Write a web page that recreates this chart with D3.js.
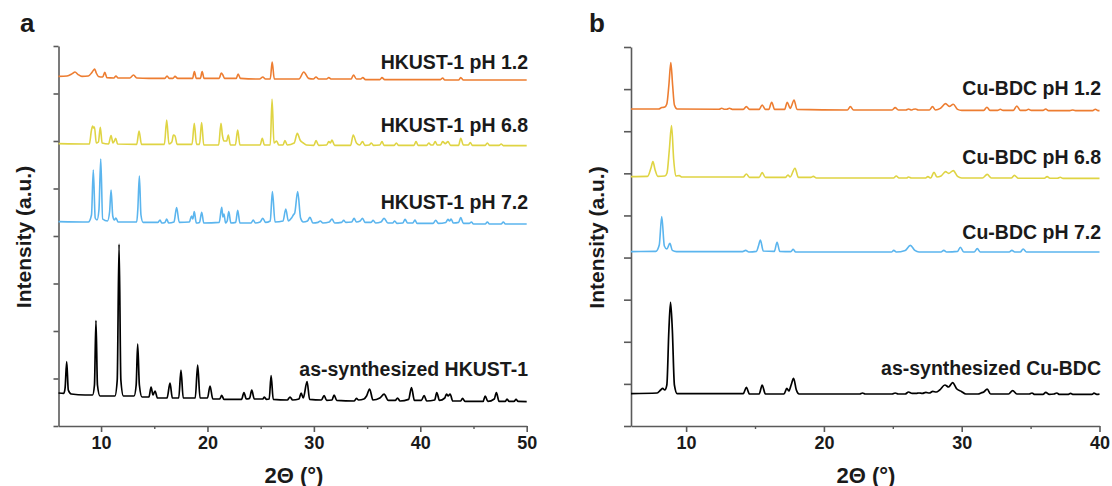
<!DOCTYPE html>
<html>
<head>
<meta charset="utf-8">
<script src="https://cdn.jsdelivr.net/npm/d3@7"></script>
<style>
  html, body { margin: 0; padding: 0; background: #fff; }
  svg text { font-family: "Liberation Sans", Arial, Helvetica, sans-serif; font-weight: bold; fill: #1a1a1a; }
</style>
</head>
<body>
<svg id="chart" width="1112" height="486"></svg>
<script>
// ---- axis definitions ----
const hkustRange = [6, 50];
const hkustMajorTicks = [10, 20, 30, 40, 50];
const hkustMinorTicks = [15, 25, 35, 45];
const cubdcRange = [6, 40];
const cubdcMajorTicks = [10, 20, 30, 40];
const cubdcMinorTicks = [15, 25, 35];

// ---- series labels and colours ----
const hkustLabels = ["HKUST-1 pH 1.2", "HKUST-1 pH 6.8", "HKUST-1 pH 7.2", "as-synthesized HKUST-1"];
const cubdcLabels = ["Cu-BDC pH 1.2", "Cu-BDC pH 6.8", "Cu-BDC pH 7.2", "as-synthesized Cu-BDC"];
const seriesColors = ["#ED7D31", "#DFD443", "#5BB5EE", "#000000"];

// ---- HKUST-1 diffractograms: [2θ (°), intensity (a.u., stacked)] ----
const hkustPh12 = [
  [6.0,1748],[6.8,1750],[7.3,1762],[7.55,1770],[7.85,1757],[8.2,1748],[8.8,1750],[9.1,1765],[9.3,1780],
  [9.4,1785],[9.55,1765],[9.75,1748],[10.15,1745],[10.35,1768],[10.55,1742],[11.2,1740],[11.4,1750],
  [11.6,1740],[12.7,1740],[13.05,1755],[13.35,1740],[14.5,1738],[16.0,1738],[16.2,1750],[16.4,1738],
  [16.75,1738],[16.95,1748],[17.2,1738],[18.6,1738],[18.77,1772],[18.95,1738],[19.33,1738],[19.5,1772],
  [19.68,1738],[21.1,1738],[21.3,1765],[21.45,1755],[21.6,1738],[22.7,1738],[22.88,1760],[23.1,1738],
  [24.9,1735],[25.2,1745],[25.45,1735],[25.9,1735],[26.08,1820],[26.28,1735],[28.6,1735],[29.05,1770],
  [29.5,1738],[29.95,1735],[30.2,1745],[30.45,1735],[31.2,1735],[31.4,1742],[31.65,1735],[33.5,1735],
  [33.72,1755],[34.0,1735],[34.4,1735],[34.6,1742],[34.85,1732],[36.2,1732],[36.4,1742],[36.65,1732],
  [41.9,1732],[42.1,1740],[42.3,1730],[43.6,1730],[43.8,1742],[44.05,1730],[50.0,1730]
];
const hkustPh68 = [
  [6.0,1412],[8.9,1410],[9.1,1480],[9.21,1500],[9.3,1490],[9.38,1495],[9.55,1415],[9.75,1420],[9.93,1494],
  [10.1,1415],[10.7,1410],[10.94,1452],[11.12,1415],[11.25,1425],[11.38,1439],[11.55,1410],[13.35,1408],
  [13.57,1475],[13.8,1408],[15.95,1408],[16.17,1530],[16.38,1410],[16.65,1420],[16.8,1455],[16.95,1450],
  [17.15,1408],[18.55,1408],[18.76,1514],[18.97,1408],[19.25,1408],[19.45,1517],[19.65,1405],[21.05,1405],
  [21.27,1514],[21.4,1455],[21.55,1425],[21.8,1425],[21.96,1455],[22.15,1405],[22.62,1405],[22.84,1480],
  [23.05,1405],[24.95,1405],[25.15,1439],[25.35,1405],[25.9,1405],[26.07,1634],[26.25,1415],[26.5,1425],
  [26.7,1405],[27.1,1405],[27.28,1427],[27.5,1405],[28.15,1415],[28.44,1464],[28.7,1430],[29.0,1415],
  [29.3,1405],[30.0,1403],[30.2,1427],[30.45,1403],[31.2,1405],[31.4,1422],[31.55,1415],[31.7,1430],
  [31.95,1403],[33.45,1403],[33.7,1455],[34.0,1415],[34.3,1405],[34.57,1422],[34.8,1403],[35.2,1405],
  [35.4,1415],[35.6,1403],[36.2,1405],[36.4,1422],[36.6,1403],[37.55,1403],[37.75,1415],[37.95,1403],
  [39.4,1403],[39.6,1422],[39.8,1403],[40.6,1403],[40.8,1415],[41.0,1405],[41.2,1405],[41.4,1422],
  [41.6,1405],[41.9,1405],[42.1,1422],[42.35,1412],[42.6,1422],[42.85,1403],[43.6,1403],[43.8,1439],
  [44.05,1405],[44.5,1405],[44.7,1417],[44.9,1403],[46.1,1403],[46.3,1415],[46.5,1403],[47.4,1403],
  [47.6,1410],[47.8,1402],[50.0,1402]
];
const hkustPh72 = [
  [6.0,1022],[8.8,1020],[9.1,1055],[9.27,1280],[9.45,1040],[9.62,1030],[9.8,1080],[9.97,1335],[10.15,1035],
  [10.6,1025],[10.8,1070],[10.94,1180],[11.1,1050],[11.25,1030],[11.4,1040],[11.6,1020],[13.35,1020],
  [13.45,1080],[13.6,1250],[13.75,1055],[13.95,1018],[15.35,1018],[15.54,1030],[15.7,1015],[16.0,1018],
  [16.17,1035],[16.35,1015],[16.85,1020],[17.1,1092],[17.35,1018],[18.3,1020],[18.5,1050],[18.62,1035],
  [18.76,1072],[18.95,1015],[19.25,1018],[19.46,1069],[19.65,1015],[21.1,1018],[21.34,1094],[21.45,1045],
  [21.55,1060],[21.7,1015],[21.85,1025],[22.0,1072],[22.2,1015],[22.65,1018],[22.84,1079],[23.05,1015],
  [24.1,1015],[24.3,1030],[24.5,1015],[24.95,1020],[25.2,1039],[25.45,1018],[25.9,1025],[26.1,1172],
  [26.35,1020],[27.1,1025],[27.36,1085],[27.6,1025],[27.9,1040],[28.07,1055],[28.2,1065],[28.48,1172],
  [28.75,1040],[29.0,1020],[29.4,1025],[29.63,1044],[29.9,1015],[30.4,1018],[30.6,1025],[30.85,1015],
  [31.45,1020],[31.7,1035],[31.95,1015],[32.6,1018],[32.8,1028],[33.0,1018],[33.55,1020],[33.78,1038],
  [34.0,1020],[34.35,1025],[34.57,1039],[34.8,1018],[35.35,1018],[35.57,1028],[35.8,1015],[36.3,1020],
  [36.6,1038],[36.95,1015],[37.4,1015],[37.6,1025],[37.8,1013],[38.35,1015],[38.57,1033],[38.8,1015],
  [39.3,1015],[39.5,1030],[39.7,1013],[41.2,1013],[41.45,1028],[41.7,1013],[42.4,1018],[42.6,1033],
  [42.75,1025],[42.9,1035],[43.1,1015],[43.6,1018],[43.8,1042],[44.05,1013],[44.6,1013],[44.8,1020],
  [45.0,1010],[46.1,1010],[46.3,1020],[46.5,1010],[47.6,1010],[47.8,1020],[48.0,1010],[50.0,1010]
];
const hkustAsSynth = [
  [6.0,165],[6.5,163],[6.62,190],[6.77,322],[6.92,180],[7.2,160],[8.5,155],[9.2,155],[9.38,205],[9.52,527],
  [9.66,205],[9.9,150],[11.3,150],[11.52,230],[11.69,909],[11.86,230],[12.1,150],[13.1,150],[13.3,205],
  [13.44,409],[13.6,205],[13.85,145],[14.5,145],[14.7,194],[14.88,155],[15.07,175],[15.3,140],[16.2,140],
  [16.48,214],[16.7,140],[17.3,140],[17.51,280],[17.72,140],[18.85,140],[19.08,305],[19.3,140],[20.0,140],
  [20.24,200],[20.5,135],[21.15,135],[21.34,153],[21.55,133],[23.2,133],[23.43,167],[23.65,135],
  [23.95,138],[24.16,179],[24.4,135],[25.2,135],[25.35,145],[25.55,133],[25.8,135],[25.98,252],
  [26.18,133],[27.5,130],[27.76,145],[28.0,130],[28.6,135],[28.8,165],[29.0,140],[29.36,222],[29.6,133],
  [30.7,130],[30.96,152],[31.2,128],[31.7,130],[31.9,155],[32.15,128],[33.8,125],[34.0,138],[34.2,130],
  [34.7,135],[34.95,150],[35.24,185],[35.55,130],[36.2,140],[36.6,159],[37.0,128],[37.65,128],[37.86,140],
  [38.1,125],[38.9,133],[39.17,192],[39.45,128],[40.1,128],[40.36,152],[40.6,125],[41.35,130],[41.55,167],
  [41.8,128],[42.3,140],[42.46,160],[42.62,150],[42.8,160],[43.05,125],[43.8,125],[43.97,138],[44.2,123],
  [45.9,123],[46.1,150],[46.35,123],[46.95,135],[47.15,167],[47.4,123],[48.0,123],[48.15,135],[48.35,123],
  [48.8,123],[49.0,133],[49.2,123],[50.0,122]
];

// ---- Cu-BDC diffractograms: [2θ (°), intensity (a.u., stacked)] ----
const cubdcPh12 = [
  [6.0,1585],[8.0,1585],[8.23,1592],[8.45,1595],[8.6,1610],[8.75,1705],[8.89,1817],[9.02,1705],[9.15,1605],
  [9.35,1585],[12.4,1584],[12.58,1589],[12.75,1584],[12.95,1584],[13.14,1589],[13.35,1583],[14.15,1583],
  [14.37,1597],[14.6,1583],[15.3,1583],[15.52,1605],[15.75,1583],[16.0,1583],[16.21,1619],[16.42,1583],
  [17.15,1583],[17.34,1619],[17.55,1588],[17.65,1600],[17.83,1630],[18.05,1583],[21.7,1580],[21.92,1597],
  [22.15,1580],[24.95,1580],[25.17,1592],[25.4,1580],[25.95,1580],[26.14,1585],[26.35,1580],[26.5,1584],
  [26.65,1585],[26.85,1580],[27.65,1580],[27.88,1597],[28.1,1580],[28.45,1588],[28.83,1612],[29.1,1598],
  [29.39,1609],[29.7,1583],[30.0,1578],[31.6,1578],[31.83,1594],[32.05,1578],[32.6,1578],[32.8,1584],
  [33.0,1578],[33.75,1578],[34.0,1600],[34.25,1578],[34.65,1578],[34.85,1584],[35.05,1578],[35.9,1578],
  [36.1,1585],[36.3,1577],[37.85,1577],[38.05,1580],[38.25,1577],[39.5,1577],[39.7,1584],[39.9,1577],
  [40.0,1577]
];
const cubdcPh68 = [
  [6.0,1247],[7.2,1248],[7.45,1290],[7.59,1322],[7.75,1280],[7.95,1248],[8.45,1250],[8.61,1264],[8.78,1380],
  [8.94,1502],[9.1,1330],[9.25,1250],[9.5,1252],[9.7,1245],[14.15,1245],[14.37,1260],[14.6,1243],
  [15.3,1243],[15.52,1267],[15.75,1243],[17.2,1243],[17.39,1255],[17.55,1245],[17.9,1289],[18.15,1243],
  [19.05,1243],[19.23,1248],[19.45,1240],[25.05,1240],[25.25,1250],[25.45,1240],[26.0,1240],[26.14,1245],
  [26.35,1240],[27.35,1240],[27.55,1247],[27.75,1240],[27.99,1269],[28.2,1245],[28.5,1250],[28.83,1272],
  [29.05,1263],[29.39,1277],[29.7,1248],[30.0,1240],[31.5,1240],[31.85,1258],[32.15,1240],[33.6,1240],
  [33.82,1253],[34.1,1239],[36.0,1239],[36.2,1247],[36.4,1239],[36.95,1239],[37.15,1244],[37.35,1238],
  [40.0,1238]
];
const cubdcPh72 = [
  [6.0,872],[7.8,873],[8.05,905],[8.23,1047],[8.42,900],[8.6,885],[8.82,913],[9.0,878],[9.3,872],[14.1,872],
  [14.32,878],[14.55,870],[15.1,873],[15.25,900],[15.39,930],[15.6,875],[16.4,873],[16.6,919],[16.8,873],
  [17.6,872],[17.77,883],[17.95,870],[24.9,870],[25.07,878],[25.25,870],[25.9,878],[26.27,903],[26.6,878],
  [26.9,870],[28.5,870],[28.7,878],[28.9,870],[29.7,873],[29.9,894],[30.15,870],[30.9,870],[31.13,887],
  [31.35,870],[33.45,870],[33.64,878],[33.85,870],[34.25,870],[34.46,885],[34.7,870],[40.0,870]
];
const cubdcAsSynth = [
  [6.0,162],[7.9,165],[8.15,180],[8.3,188],[8.45,180],[8.6,205],[8.75,480],[8.87,618],[9.0,480],[9.15,205],
  [9.35,162],[14.15,162],[14.37,193],[14.6,160],[15.3,160],[15.52,205],[15.75,160],[17.1,160],[17.31,188],
  [17.45,175],[17.62,205],[17.8,238],[18.0,180],[18.2,160],[22.6,160],[22.8,165],[23.0,160],[24.95,160],
  [25.17,165],[25.4,160],[25.9,160],[26.14,170],[26.4,163],[26.7,163],[26.9,165],[27.15,163],[27.4,168],
  [27.65,165],[27.9,173],[28.15,170],[28.4,180],[28.78,205],[29.05,195],[29.34,217],[29.65,185],[29.98,173],
  [30.3,160],[31.2,160],[31.39,165],[31.6,170],[31.85,184],[32.1,160],[33.4,160],[33.7,177],[34.0,160],
  [34.9,160],[35.1,165],[35.3,158],[35.9,158],[36.1,168],[36.35,158],[36.7,160],[36.9,165],[37.1,158],
  [37.7,158],[37.9,163],[38.1,158],[39.45,158],[39.6,164],[39.8,158],[40.0,159]
];

// ---- panel layout ----
const panels = [
  {
    letter: "a", letterX: 20, letterY: 32,
    left: 58.5, right: 526.7, top: 46, bottom: 426,
    xDomain: hkustRange, majors: hkustMajorTicks, minors: hkustMinorTicks,
    yMax: 1900, yIntervals: 8, yTickLen: 5,
    series: [hkustPh12, hkustPh68, hkustPh72, hkustAsSynth],
    labels: hkustLabels, labelX: 528, labelY: [62, 125, 202, 369],
    yTitleX: 23, xTitleX: 294
  },
  {
    letter: "b", letterX: 589, letterY: 32,
    left: 631, right: 1099.5, top: 47, bottom: 426,
    xDomain: cubdcRange, majors: cubdcMajorTicks, minors: cubdcMinorTicks,
    yMax: 1895, yIntervals: 9, yTickLen: 7,
    series: [cubdcPh12, cubdcPh68, cubdcPh72, cubdcAsSynth],
    labels: cubdcLabels, labelX: 1101, labelY: [88, 157, 232, 368],
    yTitleX: 596, xTitleX: 866
  }
];

const svg = d3.select("#chart");
const axisColor = "#5a5a5a";

panels.forEach(p => {
  const g = svg.append("g");
  const x = d3.scaleLinear().domain(p.xDomain).range([p.left, p.right]);
  const y = d3.scaleLinear().domain([0, p.yMax]).range([p.bottom, p.top]);
  const yTicks = d3.range(p.yIntervals + 1).map(i => i * p.yMax / p.yIntervals);

  // left axis: unlabeled intensity ticks
  const yAxis = g.append("g")
    .attr("transform", `translate(${p.left},0)`)
    .call(d3.axisLeft(y).tickValues(yTicks).tickSize(p.yTickLen).tickSizeOuter(0).tickFormat(""));
  yAxis.selectAll("path, line").attr("stroke", axisColor).attr("stroke-width", 1.6);

  // bottom axis: labeled major ticks + small minor ticks
  const xMinor = g.append("g")
    .attr("transform", `translate(0,${p.bottom})`)
    .call(d3.axisBottom(x).tickValues(p.minors).tickSize(3).tickSizeOuter(0).tickFormat(""));
  xMinor.select(".domain").remove();
  xMinor.selectAll("line").attr("stroke", axisColor).attr("stroke-width", 1.4);

  const xAxis = g.append("g")
    .attr("transform", `translate(0,${p.bottom})`)
    .call(d3.axisBottom(x).tickValues(p.majors).tickSize(6).tickSizeOuter(0).tickPadding(4));
  xAxis.selectAll("path, line").attr("stroke", axisColor).attr("stroke-width", 1.6);
  xAxis.selectAll("text")
    .style("font-size", "18px")
    .style("font-family", "'Liberation Sans', Arial, sans-serif")
    .style("font-weight", "bold")
    .attr("fill", "#1a1a1a");

  // diffraction patterns
  const line = d3.line()
    .x(d => x(d[0]))
    .y(d => y(d[1]))
    .curve(d3.curveMonotoneX);

  p.series.forEach((s, i) => {
    g.append("path")
      .datum(s)
      .attr("fill", "none")
      .attr("stroke", seriesColors[i])
      .attr("stroke-width", i === 3 ? 1.7 : 1.6)
      .attr("stroke-linejoin", "round")
      .attr("d", line);
  });

  // series names
  p.labels.forEach((t, i) => {
    g.append("text")
      .attr("x", p.labelX)
      .attr("y", p.labelY[i])
      .attr("text-anchor", "end")
      .attr("dominant-baseline", "central")
      .style("font-size", "19.5px")
      .text(t);
  });

  // axis titles
  g.append("text")
    .attr("transform", `translate(${p.yTitleX},${(p.top + p.bottom) / 2 + 1}) rotate(-90)`)
    .attr("text-anchor", "middle")
    .attr("dominant-baseline", "central")
    .style("font-size", "21px")
    .text("Intensity (a.u.)");

  g.append("text")
    .attr("x", p.xTitleX)
    .attr("y", 475)
    .attr("text-anchor", "middle")
    .attr("dominant-baseline", "central")
    .style("font-size", "22px")
    .text("2Θ (°)");

  // panel letter
  g.append("text")
    .attr("x", p.letterX)
    .attr("y", p.letterY)
    .style("font-size", "26px")
    .text(p.letter);
});
</script>
</body>
</html>
